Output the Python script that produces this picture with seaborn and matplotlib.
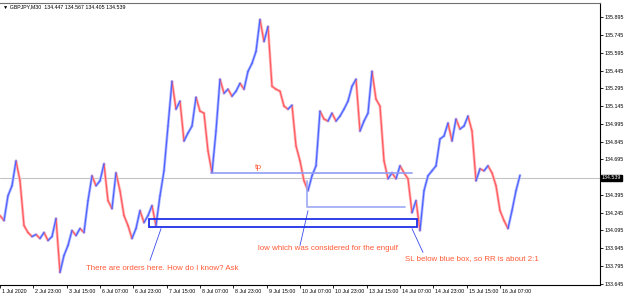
import matplotlib
matplotlib.use("Agg")
import matplotlib.pyplot as plt
import seaborn as sns
import pandas as pd
from matplotlib.patches import Rectangle

# ---------------- data ----------------
symbol_header = "\u25BC GBPJPY,M30  134.447 134.567 134.405 134.539"
current_price = 134.539

close = [
    134.220, 134.178, 134.388, 134.472, 134.682, 134.514, 134.136, 134.077, 134.043, 134.060,
    134.027, 134.077, 134.010, 134.043, 134.195, 133.741, 133.884, 133.968, 134.094, 134.052,
    134.111, 134.077, 134.346, 134.556, 134.472, 134.514, 134.657, 134.346, 134.279, 134.581,
    134.430, 134.220, 134.136, 134.027, 134.111, 134.262, 134.161, 134.220, 134.304, 134.136,
    134.388, 134.598, 134.976, 135.354, 135.119, 135.186, 134.850, 134.917, 134.976, 135.219,
    135.102, 135.085, 134.766, 134.581, 134.934, 135.371, 135.253, 135.287, 135.228, 135.270,
    135.337, 135.287, 135.438, 135.505, 135.606, 135.875, 135.690, 135.816, 135.312, 135.287,
    135.270, 135.144, 135.119, 135.152, 134.808, 134.682, 134.514, 134.430, 134.556, 134.640,
    135.102, 135.035, 135.018, 135.085, 135.018, 135.060, 135.119, 135.186, 135.312, 135.371,
    134.934, 135.018, 135.085, 135.438, 135.203, 135.144, 134.682, 134.531, 134.581, 134.531,
    134.640, 134.581, 134.531, 134.245, 134.346, 134.094, 134.430, 134.556, 134.598, 134.640,
    134.867, 134.892, 135.001, 134.850, 135.035, 134.951, 134.976, 135.060, 134.934, 134.514,
    134.615, 134.598, 134.640, 134.581, 134.472, 134.262, 134.178, 134.111, 134.262, 134.430,
    134.560,
]

x_tick_labels = ["1 Jul 2020", "2 Jul 23:00", "3 Jul 15:00", "6 Jul 07:00", "6 Jul 23:00",
                 "7 Jul 15:00", "8 Jul 07:00", "8 Jul 23:00", "9 Jul 15:00", "10 Jul 07:00",
                 "10 Jul 23:00", "13 Jul 15:00", "14 Jul 07:00", "14 Jul 23:00", "15 Jul 15:00",
                 "16 Jul 07:00"]
y_ticks = [135.895, 135.745, 135.595, 135.445, 135.295, 135.145, 134.995, 134.845,
           134.695, 134.395, 134.245, 134.095, 133.945, 133.795, 133.645]

tp_level = 134.581
low_level = 134.295
low_top = 134.514
box_top = 134.195
box_bottom = 134.127

notes = ["tp",
         "There are orders here. How do I know? Ask",
         "low which was considered for the engulf",
         "SL below blue box, so RR is about 2:1"]

# ---------------- build segments ----------------
rows = []
for i in range(len(close) - 1):
    d = "up" if close[i + 1] >= close[i] else "down"
    rows.append({"seg": i, "x": i, "price": close[i], "dir": d})
    rows.append({"seg": i, "x": i + 1, "price": close[i + 1], "dir": d})
df = pd.DataFrame(rows)

sns.set_theme(style="white")
plt.rcParams["font.family"] = ["Liberation Sans", "DejaVu Sans"]

fig = plt.figure(figsize=(6.25, 2.94), dpi=100)
ax = fig.add_axes([0.0, 9 / 294, 600 / 625, 282 / 294])

blue = "#4f62ff"
red = "#ff5a5f"
# light underlay
sns.lineplot(data=df, x="x", y="price", hue="dir", units="seg", estimator=None,
             palette={"up": "#b4bcff", "down": "#ffb8bb"}, lw=2.0, legend=False, ax=ax)
sns.lineplot(data=df, x="x", y="price", hue="dir", units="seg", estimator=None,
             palette={"up": blue, "down": red}, lw=0.9, legend=False, ax=ax)

ax.set_xlim(0, 150)
ax.set_ylim(133.634, 136.015)

# current price line
ax.axhline(current_price, color="#c4c4c4", lw=0.8, zorder=0)

# tp line
ax.plot([52.75, 103], [tp_level, tp_level], color="#8d9bf5", lw=1.3, alpha=0.9)
# low line (L-shaped)
ax.plot([76.75, 76.75, 101.25], [low_top, low_level, low_level], color="#9aa6f5", lw=1.3, alpha=0.9)
# blue box
ax.add_patch(Rectangle((37.25, box_bottom), 104.25 - 37.25, box_top - box_bottom,
                       fill=False, edgecolor="#1f2fe8", lw=1.3, zorder=5))

# annotation texts
tcol = "#ff5a36"
ax.text(64.5, 134.623, notes[0], color=tcol, fontsize=6, ha="center", va="center")
ax.text(21.5, 133.772, notes[1], color=tcol, fontsize=5.7, ha="left", va="center")
ax.text(64.5, 133.940, notes[2], color=tcol, fontsize=5.7, ha="left", va="center")
ax.text(101.25, 133.855, notes[3], color=tcol, fontsize=5.7, ha="left", va="center")

# pointer lines
pc = "#3a4cf0"
ax.plot([37.5, 40.25], [133.842, 134.11], color=pc, lw=0.6)
ax.plot([75.0, 77.0], [133.968, 134.262], color=pc, lw=0.6)
ax.plot([103.0, 105.75], [134.11, 133.909], color=pc, lw=0.6)

# axes styling
ax.spines["left"].set_visible(False)
ax.spines["top"].set_color("#707070")
ax.spines["right"].set_color("black")
ax.spines["bottom"].set_color("black")
for s in ["top", "right", "bottom"]:
    ax.spines[s].set_linewidth(0.8)

xpos = [k * 150 / 18.0 for k in range(len(x_tick_labels))]
ax.set_xticks(xpos)
ax.set_xticklabels(x_tick_labels, fontsize=3.8, ha="left")
ax.tick_params(axis="x", direction="out", length=2, width=0.6, pad=1, colors="black", bottom=True)
for lab in ax.get_xticklabels():
    lab.set_transform(lab.get_transform() + matplotlib.transforms.ScaledTranslation(2 / 100, 0, fig.dpi_scale_trans))

ax.yaxis.tick_right()
ax.set_yticks(y_ticks)
ax.set_yticklabels([f"{v:.3f}" for v in y_ticks], fontsize=3.8)
ax.tick_params(axis="y", direction="out", length=2, width=0.6, pad=1.5, colors="black", right=True, left=False)
ax.set_xlabel("")
ax.set_ylabel("")

# current price tag
ax.text(1.003, current_price, f"{current_price:.3f}", transform=ax.get_yaxis_transform(),
        fontsize=3.8, color="white", ha="left", va="center",
        bbox=dict(boxstyle="square,pad=0.15", fc="black", ec="black"), clip_on=False)

# header
fig.text(3 / 625, 1 - 7 / 294, symbol_header, fontsize=3.8, color="black", ha="left", va="center")

fig.savefig("out.png", dpi=100, facecolor="white")
